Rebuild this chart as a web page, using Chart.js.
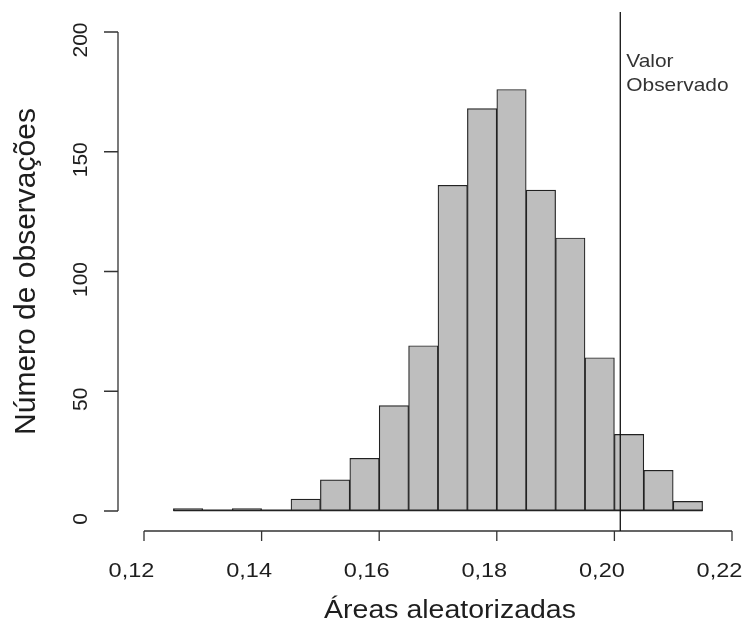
<!DOCTYPE html>
<html>
<head>
<meta charset="utf-8">
<title>Áreas aleatorizadas</title>
<script src="https://cdn.jsdelivr.net/npm/chart.js@4.4.0/dist/chart.umd.min.js"></script>
<style>
    html, body { margin: 0; padding: 0; background: #fff; }
    #wrap { width: 747px; height: 627px; }
</style>
</head>
<body>
<div id="wrap"><canvas id="myChart" width="747" height="627"></canvas></div>
<script>
// Histogram data (bin left edges, bin width 0.005)
const binLeft = [0.125, 0.130, 0.135, 0.140, 0.145, 0.150, 0.155, 0.160, 0.165,
                 0.170, 0.175, 0.180, 0.185, 0.190, 0.195, 0.200, 0.205, 0.210];
const binWidth = 0.005;
const counts = [1, 0, 1, 0, 5, 13, 22, 44, 69, 136, 168, 176, 134, 114, 64, 32, 17, 4];

// Axis ticks
const xTicks = [0.12, 0.14, 0.16, 0.18, 0.20, 0.22];
const yTicks = [0, 50, 100, 150, 200];

// Observed value marker
const observedValue = 0.2010;
const observedLabel = ['Valor', 'Observado'];

const xTitle = 'Áreas aleatorizadas';
const yTitle = 'Número de observações';

const FONT = '"Liberation Sans", Arial, sans-serif';
const INK = '#1e1e1e';

// draw horizontally stretched text (the original render is a bit wide)
function stretchText(ctx, text, x, y, size, sx, align) {
    ctx.save();
    ctx.font = size + 'px ' + FONT;
    ctx.translate(x, y);
    ctx.scale(sx, 1);
    ctx.textAlign = align || 'center';
    ctx.textBaseline = 'alphabetic';
    ctx.fillText(text, 0, 0);
    ctx.restore();
}

// R-style detached axes, titles and the observed value line
const rAxes = {
    id: 'rAxes',
    afterDatasetsDraw(chart) {
        const ctx = chart.ctx;
        const xs = chart.scales.x;
        const ys = chart.scales.y;
        const area = chart.chartArea;
        const y0 = ys.getPixelForValue(0);

        ctx.save();
        ctx.strokeStyle = '#222';
        ctx.lineWidth = 1.6;

        // baseline under the bins (shows the empty bins like R does)
        ctx.beginPath();
        ctx.moveTo(xs.getPixelForValue(binLeft[0]), y0 - 0.6);
        ctx.lineTo(xs.getPixelForValue(binLeft[binLeft.length - 1] + binWidth), y0 - 0.6);
        ctx.stroke();

        // y axis
        ctx.strokeStyle = '#333';
        ctx.lineWidth = 1.3;
        const yAxisX = area.left - 26;
        ctx.beginPath();
        ctx.moveTo(yAxisX, ys.getPixelForValue(yTicks[0]));
        ctx.lineTo(yAxisX, ys.getPixelForValue(yTicks[yTicks.length - 1]));
        yTicks.forEach(v => {
            const py = ys.getPixelForValue(v);
            ctx.moveTo(yAxisX, py);
            ctx.lineTo(yAxisX - 14, py);
        });
        ctx.stroke();

        // x axis
        const xAxisY = y0 + 20;
        ctx.beginPath();
        ctx.moveTo(xs.getPixelForValue(xTicks[0]), xAxisY);
        ctx.lineTo(xs.getPixelForValue(xTicks[xTicks.length - 1]), xAxisY);
        xTicks.forEach(v => {
            const px = xs.getPixelForValue(v);
            ctx.moveTo(px, xAxisY);
            ctx.lineTo(px, xAxisY + 10);
        });
        ctx.stroke();

        // observed value line
        const ox = xs.getPixelForValue(observedValue);
        ctx.strokeStyle = '#111';
        ctx.beginPath();
        ctx.moveTo(ox, 12);
        ctx.lineTo(ox, xAxisY);
        ctx.stroke();

        // tick labels (the original sits them a little before the ticks)
        ctx.fillStyle = INK;
        xTicks.forEach(v => {
            stretchText(ctx, v.toFixed(2).replace('.', ','), xs.getPixelForValue(v) - 12.5, xAxisY + 46, 21, 1.12);
        });

        ctx.font = '21px ' + FONT;
        ctx.textAlign = 'center';
        ctx.textBaseline = 'alphabetic';
        yTicks.forEach(v => {
            ctx.save();
            ctx.translate(yAxisX - 31, ys.getPixelForValue(v) + 8);
            ctx.rotate(-Math.PI / 2);
            ctx.fillText(String(v), 0, 0);
            ctx.restore();
        });

        // axis titles
        stretchText(ctx, xTitle, (area.left + area.right) / 2 + 12, 618, 25, 1.14);

        ctx.save();
        ctx.font = '30px ' + FONT;
        ctx.textAlign = 'center';
        ctx.textBaseline = 'alphabetic';
        ctx.translate(35, (area.top + area.bottom) / 2);
        ctx.rotate(-Math.PI / 2);
        ctx.fillText(yTitle, 0, 0);
        ctx.restore();

        // observed value text
        ctx.fillStyle = '#333';
        stretchText(ctx, observedLabel[0], ox + 6, 66.5, 18.5, 1.13, 'left');
        stretchText(ctx, observedLabel[1], ox + 6, 90.5, 18.5, 1.13, 'left');

        ctx.restore();
    }
};

document.addEventListener('DOMContentLoaded', function() {
    const ctx = document.getElementById('myChart').getContext('2d');
    const barData = binLeft.map((b, i) => ({ x: b + binWidth / 2, y: counts[i] }));

    new Chart(ctx, {
        type: 'bar',
        data: {
            datasets: [{
                label: 'Frequência',
                data: barData,
                backgroundColor: '#bebebe',
                borderColor: '#222',
                borderWidth: 1.2,
                borderSkipped: false,
                barPercentage: 1,
                categoryPercentage: 1
            }]
        },
        options: {
            responsive: false,
            animation: false,
            devicePixelRatio: 1,
            layout: {
                padding: { left: 144, right: 15, top: 32, bottom: 116 }
            },
            plugins: {
                legend: { display: false },
                tooltip: { enabled: false }
            },
            scales: {
                x: {
                    type: 'linear',
                    min: xTicks[0],
                    max: xTicks[xTicks.length - 1],
                    offset: false,
                    display: false
                },
                y: {
                    min: yTicks[0],
                    max: yTicks[yTicks.length - 1],
                    display: false
                }
            }
        },
        plugins: [rAxes]
    });
});
</script>
</body>
</html>
